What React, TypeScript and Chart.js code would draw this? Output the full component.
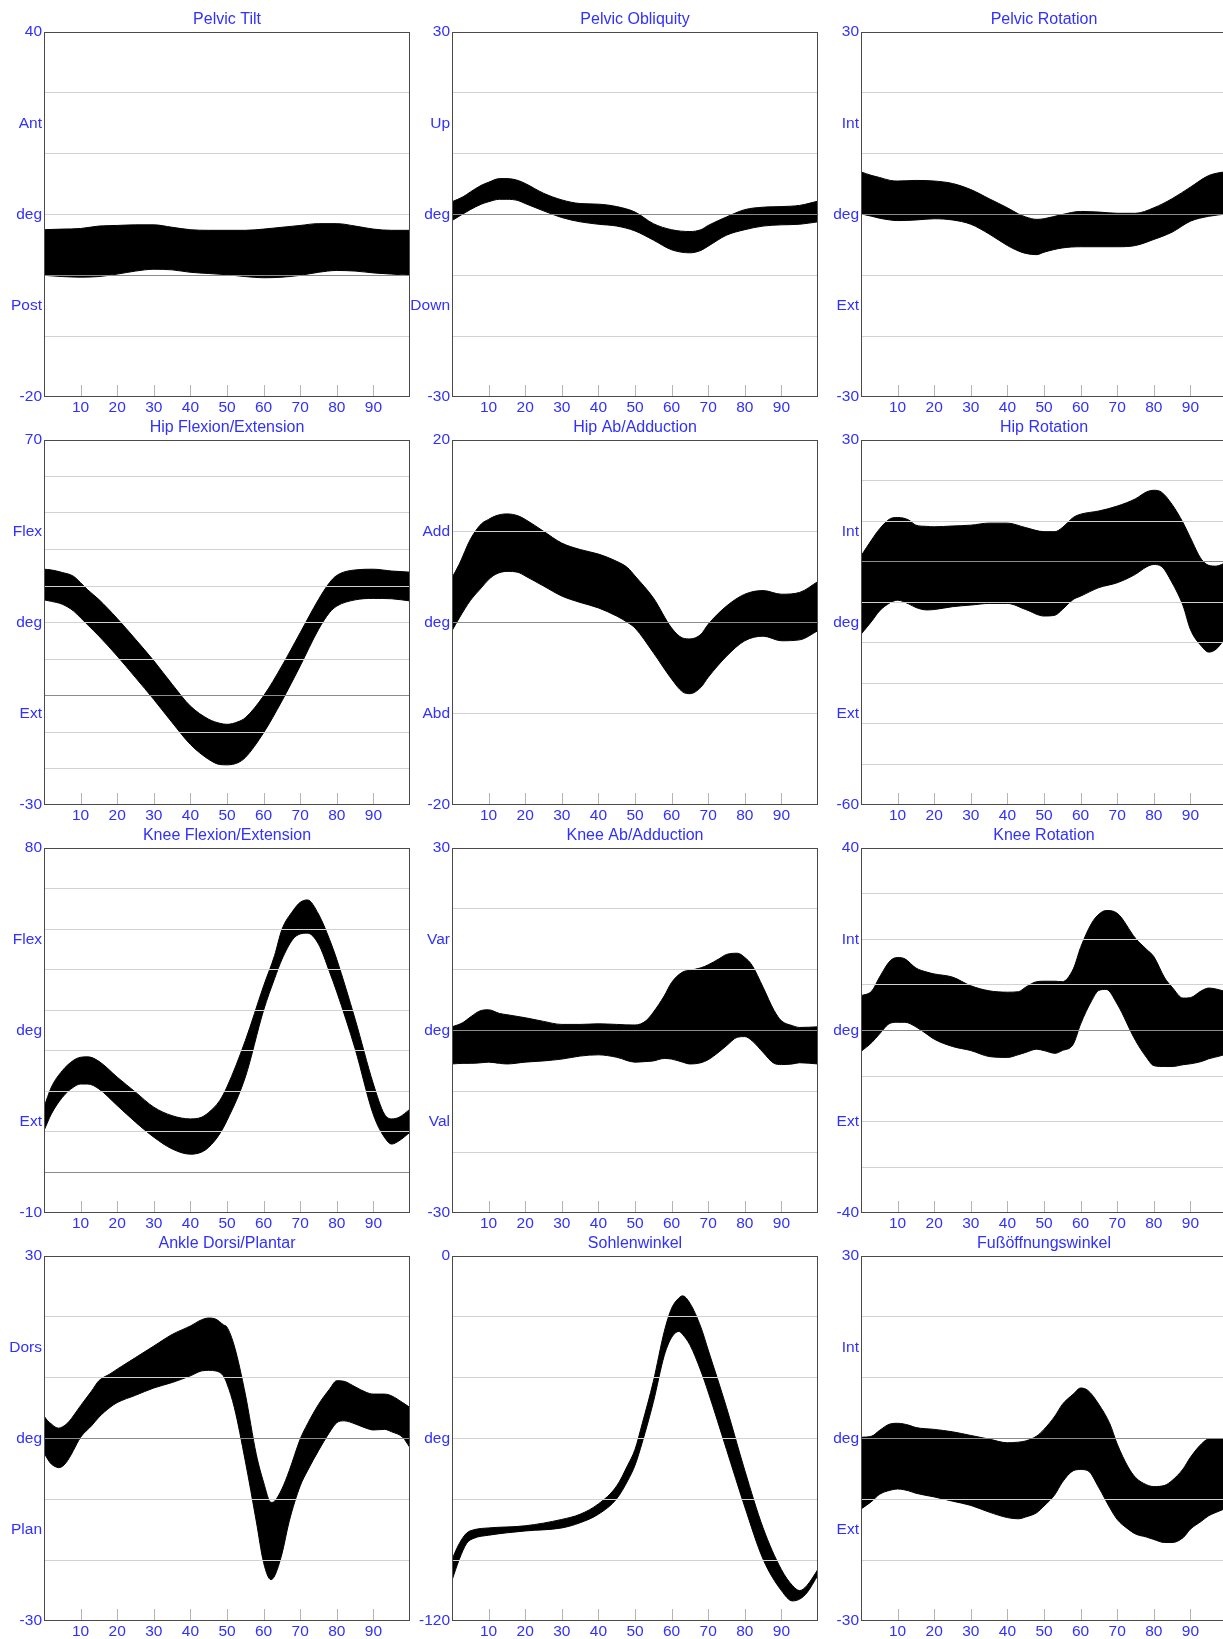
import React, { useEffect, useRef } from "react";
import { Chart, registerables } from "chart.js";

Chart.register(...registerables);

// ---- gait cycle x ticks (percent) ----
const X_TICKS = [10, 20, 30, 40, 50, 60, 70, 80, 90];

// ---- Pelvic Tilt ----
const pelvicTiltX = [0, 5, 10, 15, 20, 25, 30, 35, 40, 45, 50, 55, 60, 65, 70, 75, 80, 85, 90, 95, 100];
const pelvicTiltMax = [7.5, 7.6, 7.7, 8.1, 8.2, 8.3, 8.3, 7.9, 7.5, 7.4, 7.4, 7.4, 7.6, 7.9, 8.2, 8.5, 8.5, 8.1, 7.6, 7.4, 7.4];
const pelvicTiltMin = [0, -0.2, -0.3, -0.2, 0.2, 0.7, 1.0, 0.9, 0.5, 0.3, 0.1, -0.2, -0.4, -0.3, 0, 0.5, 0.8, 0.7, 0.4, 0.2, 0];

// ---- Pelvic Obliquity ----
const pelvicObliqX = [0, 3, 5, 8, 10, 13, 15, 18, 20, 25, 30, 35, 40, 45, 50, 55, 60, 65, 68, 70, 75, 80, 85, 90, 95, 100];
const pelvicObliqMax = [2.1, 2.9, 3.7, 4.8, 5.3, 5.9, 5.9, 5.6, 5.1, 3.5, 2.4, 1.8, 1.7, 1.3, 0.4, -1.5, -2.5, -2.8, -2.5, -1.8, -0.4, 0.8, 1.2, 1.3, 1.5, 2.2];
const pelvicObliqMin = [-1, 0.1, 0.8, 1.7, 2.1, 2.5, 2.5, 2.3, 1.8, 0.6, -0.5, -1.2, -1.6, -1.9, -2.7, -4.2, -5.8, -6.3, -5.9, -5.2, -3.4, -2.5, -1.9, -1.7, -1.6, -1.2];

// ---- Pelvic Rotation ----
const pelvicRotX = [0, 3, 5, 8, 10, 15, 20, 25, 30, 35, 40, 43, 45, 48, 50, 55, 60, 65, 70, 75, 80, 85, 90, 95, 100];
const pelvicRotMax = [7.0, 6.4, 6.1, 5.6, 5.5, 5.6, 5.5, 5.1, 4.1, 2.6, 1.1, 0.1, -0.4, -0.8, -0.7, 0, 0.5, 0.4, 0.2, 0.2, 1.1, 2.6, 4.5, 6.4, 7.1];
const pelvicRotMin = [0.1, -0.3, -0.6, -0.9, -1, -0.9, -0.7, -0.9, -1.6, -3.2, -5.1, -6.0, -6.4, -6.6, -6.2, -5.5, -5.3, -5.3, -5.3, -5.1, -4.1, -2.9, -1.1, -0.3, 0.1];

// ---- Hip Flexion/Extension ----
const hipFlexX = [0, 2, 5, 8, 10, 12, 15, 20, 25, 30, 35, 40, 45, 48, 50, 53, 55, 60, 65, 70, 75, 78, 80, 85, 90, 95, 100];
const hipFlexMax = [34.6, 34.4, 33.7, 32.7, 30.9, 28.9, 26.3, 21.1, 15.4, 9.5, 3.1, -2.9, -6.5, -7.6, -7.9, -7.2, -6.1, -0.1, 8.1, 17.2, 26.3, 30.9, 32.9, 34.4, 34.6, 34.1, 33.8];
const hipFlexMin = [26.2, 25.8, 25, 23.2, 21.3, 19.3, 16.3, 10.8, 4.9, -1.1, -7.4, -13.4, -17.5, -18.9, -19.0, -18.4, -17, -10.2, -1.5, 8.1, 18.1, 22.7, 24.5, 26.2, 26.6, 26.5, 25.9];

// ---- Hip Ab/Adduction ----
const hipAbX = [0, 2, 5, 8, 10, 12, 15, 18, 20, 25, 30, 35, 40, 45, 48, 50, 55, 60, 63, 65, 68, 70, 75, 80, 85, 90, 95, 100];
const hipAbMax = [4.9, 6.4, 9.1, 10.8, 11.3, 11.7, 11.9, 11.7, 11.3, 10, 8.7, 8.0, 7.5, 6.7, 6.0, 5.1, 2.7, -0.6, -1.7, -1.8, -1.3, -0.2, 1.8, 3.1, 3.5, 3.1, 3.3, 4.5];
const hipAbMin = [-0.9, 0.5, 2.4, 3.8, 4.7, 5.3, 5.6, 5.5, 5.1, 4.0, 2.9, 2.2, 1.6, 0.7, 0, -0.6, -3.3, -6.2, -7.6, -7.8, -7.1, -6, -3.7, -2, -1.5, -2, -1.9, -0.9];

// ---- Hip Rotation ----
const hipRotX = [0, 3, 5, 8, 10, 13, 15, 18, 20, 25, 30, 35, 40, 45, 50, 53, 55, 58, 60, 65, 70, 75, 78, 80, 82, 85, 88, 90, 93, 95, 97, 100];
const hipRotMax = [1.4, 5.5, 8, 10.6, 10.9, 10.3, 9, 8.7, 8.6, 8.8, 9, 9.5, 9.5, 8.4, 7.4, 7.4, 8.4, 10.9, 11.7, 12.5, 13.7, 15.5, 17.2, 17.6, 17.2, 14.1, 9.6, 5.9, 0.6, -0.9, -1.1, -0.1];
const hipRotMin = [-17.9, -14.6, -12.2, -10.1, -9.5, -10.4, -11.3, -11.9, -11.8, -11.1, -10.7, -10.3, -10.3, -11.8, -13.4, -13.2, -11.8, -9.3, -8.5, -6.4, -5.2, -3.1, -1.3, -0.7, -1.1, -5.2, -10.9, -16.7, -20.8, -22.3, -21.6, -18.3];

// ---- Knee Flexion/Extension ----
const kneeFlexX = [0, 2, 5, 8, 10, 12, 15, 20, 25, 30, 35, 40, 43, 45, 48, 50, 55, 60, 63, 65, 68, 70, 72, 75, 78, 80, 85, 90, 93, 95, 97, 100];
const kneeFlexMax = [16.1, 21, 25.1, 27.6, 28.4, 28.5, 27.4, 23.5, 19.8, 16.1, 14.0, 13.2, 13.6, 14.8, 17.7, 21.1, 32.5, 46, 53.5, 59.9, 64.5, 66.6, 67.2, 63.7, 57.5, 52.5, 37.8, 21.8, 14.4, 13.2, 13.6, 15.6];
const kneeFlexMin = [10.3, 14.4, 18.5, 21, 21.8, 21.8, 20.6, 16.5, 12.4, 8.7, 5.8, 4.5, 5, 6.2, 9.5, 12.8, 23.5, 40, 47.8, 52.5, 57.5, 58.8, 59, 56.3, 49.5, 44.5, 30.5, 14.2, 8.7, 7, 7.8, 9.9];

// ---- Knee Ab/Adduction ----
const kneeAbX = [0, 3, 5, 8, 10, 13, 15, 20, 25, 30, 35, 40, 45, 50, 53, 55, 58, 60, 63, 65, 68, 70, 73, 75, 78, 80, 82, 85, 88, 90, 93, 95, 100];
const kneeAbMax = [0.6, 1.3, 2.2, 3.3, 3.4, 2.8, 2.6, 2.1, 1.5, 1.0, 1.0, 1.1, 1.0, 0.9, 1.6, 3.0, 5.7, 7.9, 9.6, 9.9, 10.3, 10.8, 11.8, 12.5, 12.7, 12, 10.7, 7.1, 3.3, 1.6, 0.8, 0.5, 0.6];
const kneeAbMin = [-5.5, -5.4, -5.4, -5.3, -5.2, -5.4, -5.5, -5.2, -5.0, -4.7, -4.2, -4.0, -4.4, -5.2, -5.1, -5.0, -4.6, -4.7, -5.2, -5.5, -5.3, -4.8, -3.5, -2.5, -1.1, -1.0, -1.7, -3.6, -5.4, -5.6, -5.5, -5.3, -5.5];

// ---- Knee Rotation ----
const kneeRotX = [0, 3, 5, 8, 10, 12, 15, 18, 20, 25, 30, 35, 40, 43, 45, 48, 50, 53, 55, 58, 60, 63, 65, 67, 70, 75, 78, 80, 83, 85, 88, 90, 93, 95, 98, 100];
const kneeRotMax = [7.6, 8.7, 11.6, 15.3, 16, 15.7, 13.7, 12.8, 12.4, 11.7, 9.8, 8.7, 8.4, 8.5, 9.5, 10.7, 10.8, 10.8, 10.7, 13.5, 18.2, 23.5, 25.5, 26.3, 25.7, 20.2, 17.8, 16.2, 11.5, 9.5, 7.1, 7.2, 8.7, 9.3, 8.9, 8.4];
const kneeRotMin = [-4.6, -2.6, -0.8, 1.6, 1.8, 1.8, 0.8, -0.8, -1.9, -3.5, -4.4, -5.7, -5.9, -5.3, -4.8, -4.1, -4.4, -5, -4.4, -3, 1.4, 6.5, 8.8, 9.0, 5.8, -2.2, -5.9, -7.7, -7.9, -7.9, -7.5, -7.3, -6.8, -6.2, -5.6, -5.1];

// ---- Ankle Dorsi/Plantar ----
const ankleX = [0, 1, 2, 3, 4, 5, 6, 7, 8, 10, 13, 15, 18, 20, 25, 30, 35, 40, 43, 45, 47, 49, 50, 52, 55, 58, 60, 62, 63, 65, 67, 70, 72, 75, 78, 80, 82, 85, 88, 90, 93, 95, 98, 100];
const ankleMax = [3.7, 2.9, 2.4, 1.9, 1.7, 1.9, 2.3, 2.9, 3.7, 5.4, 7.8, 9.5, 10.6, 11.4, 13.3, 15.2, 17.1, 18.5, 19.5, 19.8, 19.6, 18.7, 18.3, 15.2, 7.3, -2.6, -7.2, -10.5, -10.3, -8.3, -5.3, -0.1, 2.4, 5.6, 8.1, 9.5, 9.4, 8.5, 7.6, 7.3, 7.3, 7, 5.9, 5.1];
const ankleMin = [-2.3, -3.4, -4.2, -4.6, -4.8, -4.6, -4, -3.1, -2, 0.2, 2.1, 3.5, 5.1, 5.9, 7.1, 8.3, 9.2, 10.3, 11.1, 11.2, 11.1, 10.3, 9.0, 5.1, -3.7, -13.6, -20.4, -23.2, -22.6, -19, -13.6, -7.8, -5.3, -2.0, 1.0, 2.6, 2.9, 2.4, 1.7, 1.4, 1.5, 1.1, 0.2, -1.5];

// ---- Sohlenwinkel ----
const soleX = [0, 2, 4, 6, 10, 20, 30, 35, 40, 45, 48, 50, 52, 55, 58, 60, 62, 63, 65, 68, 70, 75, 80, 85, 90, 93, 95, 97, 100];
const soleMax = [-99.7, -94.5, -91.1, -90, -89.4, -88.7, -86.6, -84.9, -81.5, -75.6, -68.8, -63.6, -55, -41.3, -24.8, -17.2, -13.8, -13.1, -15.5, -23.4, -30.9, -49.8, -70.5, -89.4, -103.1, -108.3, -110, -108.3, -103];
const soleMin = [-106.6, -99.7, -94.5, -92.8, -91.8, -90.4, -89.4, -87.7, -84.9, -79.8, -73.9, -68.8, -61.2, -48.1, -32.7, -26.8, -24.8, -25.8, -29.2, -37.8, -44.7, -63.6, -82.5, -99.7, -110, -113.4, -112.8, -110.7, -104.9];

// ---- Fußöffnungswinkel ----
const footProgX = [0, 3, 5, 8, 10, 13, 15, 20, 25, 30, 35, 40, 43, 45, 48, 50, 53, 55, 58, 60, 62, 65, 68, 70, 73, 75, 78, 80, 83, 85, 88, 90, 93, 95, 98, 100];
const footProgMax = [0.2, 0.4, 1.3, 2.4, 2.5, 2.2, 1.8, 1.5, 1.1, 0.5, -0.1, -0.7, -0.6, -0.4, 0.4, 1.5, 3.7, 5.6, 7.3, 8.3, 7.9, 5.6, 2.4, -0.9, -4.7, -6.4, -7.6, -7.9, -7.7, -6.9, -5, -3.1, -0.9, -0.1, -0.1, -0.1];
const footProgMin = [-11.6, -10.3, -9.2, -8.5, -8.3, -8.6, -9, -9.6, -10.3, -11, -12.1, -13, -13.2, -12.9, -12.2, -11.1, -9.2, -7.2, -5.3, -5.1, -5.3, -8.1, -11.4, -13.3, -14.9, -15.7, -16.2, -16.6, -17.1, -17.1, -16.3, -14.9, -13.6, -12.7, -11.9, -11.4];

type PanelSpec = {
  title: string;
  top: number;
  bottom: number;
  step: number;
  upLabel: string;
  downLabel: string;
  x: number[];
  hi: number[];
  lo: number[];
};

const PANELS: PanelSpec[] = [
  { title: "Pelvic Tilt", top: 40, bottom: -20, step: 10, upLabel: "Ant", downLabel: "Post", x: pelvicTiltX, hi: pelvicTiltMax, lo: pelvicTiltMin },
  { title: "Pelvic Obliquity", top: 30, bottom: -30, step: 10, upLabel: "Up", downLabel: "Down", x: pelvicObliqX, hi: pelvicObliqMax, lo: pelvicObliqMin },
  { title: "Pelvic Rotation", top: 30, bottom: -30, step: 10, upLabel: "Int", downLabel: "Ext", x: pelvicRotX, hi: pelvicRotMax, lo: pelvicRotMin },
  { title: "Hip Flexion/Extension", top: 70, bottom: -30, step: 10, upLabel: "Flex", downLabel: "Ext", x: hipFlexX, hi: hipFlexMax, lo: hipFlexMin },
  { title: "Hip Ab/Adduction", top: 20, bottom: -20, step: 10, upLabel: "Add", downLabel: "Abd", x: hipAbX, hi: hipAbMax, lo: hipAbMin },
  { title: "Hip Rotation", top: 30, bottom: -60, step: 10, upLabel: "Int", downLabel: "Ext", x: hipRotX, hi: hipRotMax, lo: hipRotMin },
  { title: "Knee Flexion/Extension", top: 80, bottom: -10, step: 10, upLabel: "Flex", downLabel: "Ext", x: kneeFlexX, hi: kneeFlexMax, lo: kneeFlexMin },
  { title: "Knee Ab/Adduction", top: 30, bottom: -30, step: 10, upLabel: "Var", downLabel: "Val", x: kneeAbX, hi: kneeAbMax, lo: kneeAbMin },
  { title: "Knee Rotation", top: 40, bottom: -40, step: 10, upLabel: "Int", downLabel: "Ext", x: kneeRotX, hi: kneeRotMax, lo: kneeRotMin },
  { title: "Ankle Dorsi/Plantar", top: 30, bottom: -30, step: 10, upLabel: "Dors", downLabel: "Plan", x: ankleX, hi: ankleMax, lo: ankleMin },
  { title: "Sohlenwinkel", top: 0, bottom: -120, step: 20, upLabel: "", downLabel: "", x: soleX, hi: soleMax, lo: soleMin },
  { title: "Fußöffnungswinkel", top: 30, bottom: -30, step: 10, upLabel: "Int", downLabel: "Ext", x: footProgX, hi: footProgMax, lo: footProgMin },
];

const COL_LEFT = [0, 408, 817];
const ROW_TOP = [0, 408, 816, 1224];
const CANVAS_W = 414;
const CANVAS_H = 419;

const TEXT_BLUE = "#3030ff";
const GRID_GRAY = "#d2d2d2";
const ZERO_GRAY = "#8c8c8c";
const FRAME_GRAY = "#4a4a4a";
const TICK_GRAY = "#b4b4b4";
const FONT_FAMILY = "'Liberation Sans', Arial, sans-serif";

const near = (a: number, b: number) => Math.abs(a - b) < 1e-6;

// Frame, inner x tick marks and the panel title.
const framePlugin = {
  id: "gaitFrame",
  afterDraw(chart: any, _args: any, opts: any) {
    const { ctx, chartArea: a, scales } = chart;
    ctx.save();
    ctx.lineWidth = 1;
    ctx.strokeStyle = TICK_GRAY;
    ctx.beginPath();
    for (const t of scales.x.ticks) {
      const px = Math.round(scales.x.getPixelForValue(t.value)) + 0.5;
      ctx.moveTo(px, a.bottom);
      ctx.lineTo(px, a.bottom - 12);
    }
    ctx.stroke();
    ctx.strokeStyle = FRAME_GRAY;
    ctx.strokeRect(
      Math.round(a.left) + 0.5,
      Math.round(a.top) + 0.5,
      Math.round(a.right) - Math.round(a.left) - 1,
      Math.round(a.bottom) - Math.round(a.top) - 1
    );
    ctx.fillStyle = TEXT_BLUE;
    ctx.font = `16px ${FONT_FAMILY}`;
    ctx.textAlign = "center";
    ctx.textBaseline = "middle";
    ctx.fillText(opts.text, (a.left + a.right) / 2, a.top - 12.5);
    ctx.restore();
  },
};

function Panel({ spec, left, top }: { spec: PanelSpec; left: number; top: number }) {
  const ref = useRef<HTMLCanvasElement | null>(null);

  useEffect(() => {
    if (!ref.current) return;
    const range = spec.top - spec.bottom;
    const mid = spec.top - range / 2;
    const qUp = spec.top - range / 4;
    const qDown = spec.top - (3 * range) / 4;
    const gridValues: number[] = [];
    for (let v = spec.bottom + spec.step; v < spec.top - 1e-6; v += spec.step) gridValues.push(v);
    const isGrid = (v: number) => gridValues.some((g) => near(g, v));
    const tickValues = Array.from(new Set([spec.bottom, spec.top, mid, qUp, qDown, ...gridValues])).sort((a, b) => a - b);

    const label = (v: number) => {
      if (near(v, spec.top)) return String(spec.top);
      if (near(v, spec.bottom)) return String(spec.bottom);
      if (near(v, mid)) return "deg";
      if (near(v, qUp)) return spec.upLabel;
      if (near(v, qDown)) return spec.downLabel;
      return "";
    };

    const chart = new Chart(ref.current, {
      type: "line",
      data: {
        datasets: [
          {
            data: spec.x.map((x, i) => ({ x, y: spec.hi[i] })),
            borderColor: "#000",
            borderWidth: 1,
            pointRadius: 0,
            cubicInterpolationMode: "monotone",
            fill: false,
          },
          {
            data: spec.x.map((x, i) => ({ x, y: spec.lo[i] })),
            borderColor: "#000",
            borderWidth: 1,
            pointRadius: 0,
            cubicInterpolationMode: "monotone",
            backgroundColor: "#000",
            fill: "-1",
          },
        ],
      },
      options: {
        animation: false,
        responsive: false,
        devicePixelRatio: 1,
        events: [],
        layout: { padding: { left: 0, top: 32, right: 4, bottom: 0 } },
        plugins: {
          legend: { display: false },
          tooltip: { enabled: false },
          gaitFrame: { text: spec.title },
        } as any,
        scales: {
          x: {
            type: "linear",
            min: 0,
            max: 100,
            position: "bottom",
            grid: { display: false, drawTicks: false },
            border: { display: false },
            afterBuildTicks: (s: any) => {
              s.ticks = X_TICKS.map((value) => ({ value }));
            },
            afterFit: (s: any) => {
              s.height = 22;
              s.paddingLeft = 0;
              s.paddingRight = 0;
            },
            ticks: {
              autoSkip: false,
              maxRotation: 0,
              padding: 1,
              color: TEXT_BLUE,
              font: { family: FONT_FAMILY, size: 15.5 },
              callback: (v: any) => String(v),
            },
          },
          y: {
            type: "linear",
            min: spec.bottom,
            max: spec.top,
            position: "left",
            border: { display: false },
            grid: {
              z: 1,
              drawTicks: false,
              lineWidth: 1,
              color: (ctx: any) => {
                const v = ctx.tick ? ctx.tick.value : NaN;
                if (!isGrid(v)) return "rgba(0,0,0,0)";
                return near(v, 0) ? ZERO_GRAY : GRID_GRAY;
              },
            },
            afterBuildTicks: (s: any) => {
              s.ticks = tickValues.map((value) => ({ value }));
            },
            afterFit: (s: any) => {
              s.width = 44;
              s.paddingTop = 0;
              s.paddingBottom = 0;
            },
            ticks: {
              autoSkip: false,
              padding: 2,
              color: TEXT_BLUE,
              font: { family: FONT_FAMILY, size: 15.5 },
              callback: (v: any) => label(Number(v)),
            },
          },
        },
      },
      plugins: [framePlugin],
    } as any);

    return () => chart.destroy();
  }, [spec]);

  return (
    <canvas
      ref={ref}
      width={CANVAS_W}
      height={CANVAS_H}
      style={{ position: "absolute", left, top, width: CANVAS_W, height: CANVAS_H }}
    />
  );
}

export default function App() {
  return (
    <div
      style={{
        position: "absolute",
        left: 0,
        top: 0,
        width: 1223,
        height: 1639,
        overflow: "hidden",
        background: "#fff",
      }}
    >
      {PANELS.map((p, i) => (
        <Panel key={p.title} spec={p} left={COL_LEFT[i % 3]} top={ROW_TOP[Math.floor(i / 3)]} />
      ))}
    </div>
  );
}
